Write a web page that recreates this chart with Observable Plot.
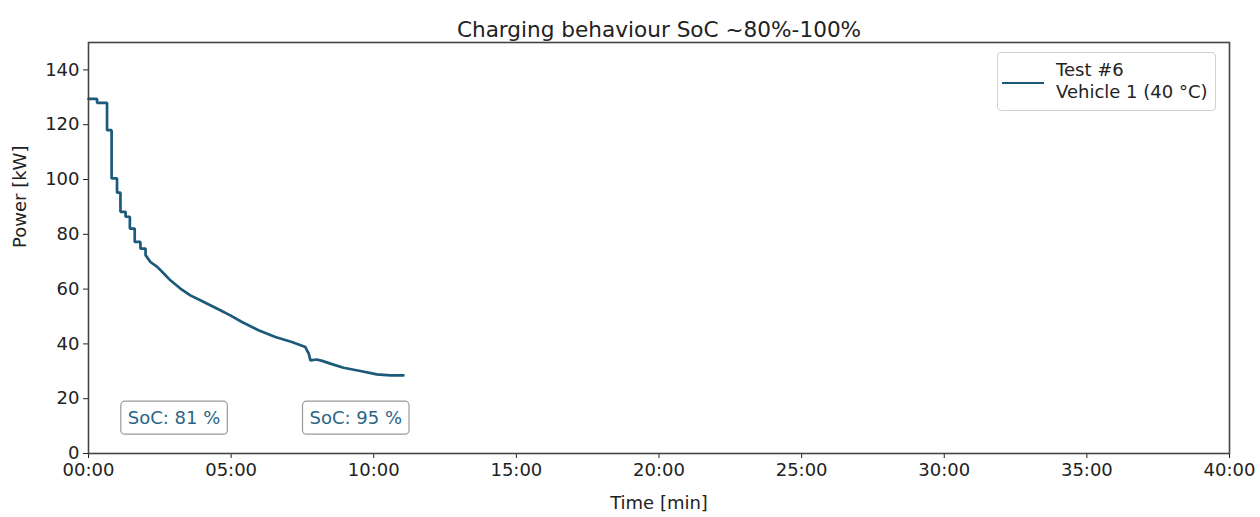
<!DOCTYPE html>
<html>
<head>
<meta charset="utf-8">
<script src="https://cdn.jsdelivr.net/npm/d3@7"></script>
<script src="https://cdn.jsdelivr.net/npm/@observablehq/plot@0.6"></script>
<style>
  body { margin: 0; background: #fff; font-family: "DejaVu Sans", sans-serif; }
  #wrap { position: relative; width: 1260px; height: 517px; }
  #legend {
    position: absolute; left: 997px; top: 52px; width: 219px; height: 59px;
    border: 1px solid #d0d0d0; border-radius: 4px; background: #fff;
    font-family: "DejaVu Sans", sans-serif; font-size: 18px; color: #222;
    box-sizing: border-box;
  }
  #legend .sw { position: absolute; left: 4px; top: 29px; width: 42px; height: 0; border-top: 2.5px solid #1b5a7a; }
  #legend .t { position: absolute; left: 58px; top: 6px; line-height: 22px; white-space: nowrap; }
</style>
</head>
<body>
<div id="wrap"><div id="legend"><div class="sw"></div><div class="t">Test #6<br>Vehicle 1 (40 °C)</div></div></div>
<script>
const title = "Charging behaviour SoC ~80%-100%";
const xLabel = "Time [min]";
const yLabel = "Power [kW]";
const xTicks = [0, 5, 10, 15, 20, 25, 30, 35, 40];
const yTicks = [0, 20, 40, 60, 80, 100, 120, 140];

// time in minutes, power in kW (repeated times are the vertical steps)
const timeMin = [0, 0.30, 0.30, 0.65, 0.65, 0.81, 0.81, 1.00, 1.00, 1.12, 1.12, 1.30, 1.30, 1.45, 1.45, 1.62, 1.62, 1.82, 1.82, 2.00, 2.00,
                 2.17, 2.41, 2.64, 2.87, 3.22, 3.57, 3.92, 4.27, 4.62, 4.97, 5.38, 5.96, 6.55, 7.13, 7.60, 7.66, 7.72, 7.78, 8.00, 8.19, 8.48, 8.94, 9.53, 10.11, 10.58, 11.04];
const powerKW = [129.4, 129.4, 128.0, 128.0, 118.0, 118.0, 100.4, 100.4, 95.2, 95.2, 88.2, 88.2, 86.4, 86.4, 82.1, 82.1, 77.2, 77.2, 74.8, 74.8, 72.4,
                 69.9, 68.1, 65.7, 63.2, 60.2, 57.7, 55.9, 54.1, 52.3, 50.4, 48.0, 45.0, 42.5, 40.7, 38.9, 37.6, 36.5, 34.0, 34.3, 33.8, 32.8, 31.3, 30.1, 28.9, 28.5, 28.5];

const socLabels = ["SoC: 81 %", "SoC: 95 %"];
const socTime = [3.0, 9.37];
const socPower = [12.8, 12.8];

const series = timeMin.map((t, i) => ({t, p: powerKW[i]}));
const socs = socLabels.map((s, i) => ({s, t: socTime[i], p: socPower[i]}));

const fmt = d => String(d).padStart(2, "0") + ":00";

const chart = Plot.plot({
  width: 1260,
  height: 517,
  marginTop: 42,
  marginBottom: 64,
  marginLeft: 88,
  marginRight: 31,
  style: {fontFamily: "DejaVu Sans, sans-serif", fontSize: "18px", color: "#222", background: "#fff"},
  x: {domain: [0, 40], ticks: xTicks, tickFormat: fmt, label: null},
  y: {domain: [0, 150], ticks: yTicks, label: null},
  marks: [
    Plot.axisX({ticks: xTicks, tickFormat: fmt, tickSize: 5, tickPadding: 5, label: null, fontSize: 18}),
    Plot.axisY({ticks: yTicks, tickSize: 5, tickPadding: 4, label: null, fontSize: 18}),
    Plot.line(series, {x: "t", y: "p", stroke: "#1b5a7a", strokeWidth: 2.7, strokeLinejoin: "miter"}),
    Plot.text(socs, {x: "t", y: "p", text: "s", fill: "#2a6585", fontSize: 18}),
    Plot.frame({stroke: "#444", strokeWidth: 1.6}),
    Plot.text([title], {text: d => d, frameAnchor: "top", dy: -21, fontSize: 21.6, fill: "#222"}),
    Plot.text([xLabel], {text: d => d, frameAnchor: "bottom", dy: 55, fontSize: 18, fill: "#222"}),
    Plot.text([yLabel], {text: d => d, frameAnchor: "left", dx: -68, rotate: -90, fontSize: 18, fill: "#222"})
  ]
});

const wrap = document.getElementById("wrap");
wrap.insertBefore(chart, wrap.firstChild);

// boxes around SoC labels
const ns = "http://www.w3.org/2000/svg";
Array.from(chart.querySelectorAll("text"))
  .filter(t => socLabels.includes(t.textContent))
  .forEach(t => {
    const b = t.getBBox();
    const r = document.createElementNS(ns, "rect");
    const padX = 7, padY = 6;
    r.setAttribute("x", b.x - padX);
    r.setAttribute("y", b.y - padY);
    r.setAttribute("width", b.width + 2 * padX);
    r.setAttribute("height", b.height + 2 * padY);
    r.setAttribute("rx", 4);
    r.setAttribute("fill", "#fff");
    r.setAttribute("stroke", "#999");
    r.setAttribute("stroke-width", 1.2);
    if (t.getAttribute("transform")) r.setAttribute("transform", t.getAttribute("transform"));
    t.parentNode.insertBefore(r, t);
  });
</script>
</body>
</html>
